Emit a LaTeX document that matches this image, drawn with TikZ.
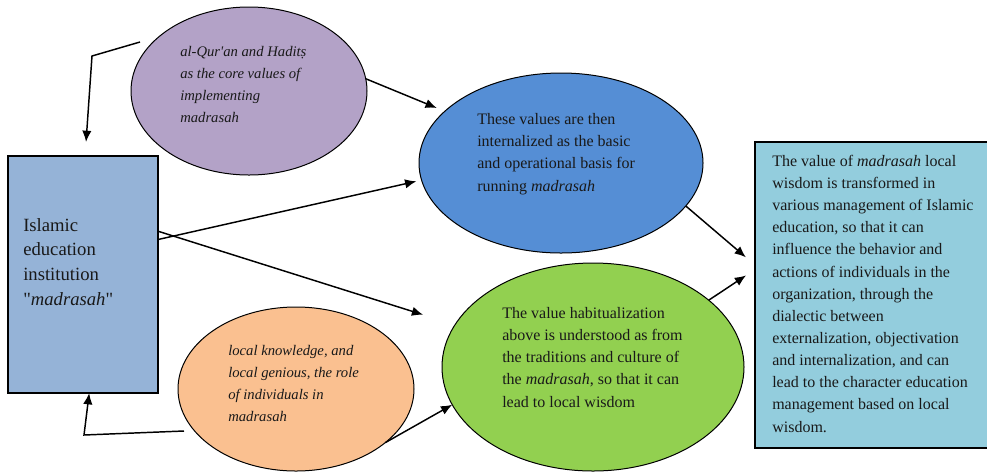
\documentclass[tikz,border=0pt]{standalone}
\usepackage{fontspec}
\setmainfont{Liberation Serif}
\usetikzlibrary{shapes.geometric,arrows.meta}

\definecolor{instfill}{HTML}{95B3D7}
\definecolor{quranfill}{HTML}{B3A2C7}
\definecolor{valuefill}{HTML}{558ED5}
\definecolor{habitfill}{HTML}{92D050}
\definecolor{localfill}{HTML}{FAC090}
\definecolor{wisdomfill}{HTML}{93CDDD}

\tikzset{
  blob/.style={ellipse, draw=black, line width=0.75pt, inner sep=0pt, outer sep=0pt},
  panel/.style={rectangle, draw=black, line width=0.9pt, inner sep=0pt, outer sep=0pt},
  % texts are placed at the baseline of their last line
  txt/.style={anchor=base west, align=left, inner sep=0pt, text=black!90,
    font=\fontsize{12pt}{16.6pt}\selectfont},
  itxt/.style={txt, font=\fontsize{11pt}{16.5pt}\selectfont\itshape},
  flow/.style={-{Latex[length=8.5pt,width=7pt]}, line width=1.1pt},
}

\begin{document}
\begin{tikzpicture}[x=0.75pt,y=-0.75pt]
\useasboundingbox (0,0) rectangle (987,472);
% shapes
\node[panel, fill=instfill, minimum width=112.5pt, minimum height=177.75pt] (inst) at (83,274.5) {};
\node[blob, fill=quranfill, minimum width=177pt, minimum height=126pt] (quran) at (249,91) {};
\node[blob, fill=valuefill, minimum width=213pt, minimum height=135pt] (value) at (561,163) {};
\node[blob, fill=habitfill, minimum width=226.5pt, minimum height=156pt] (habit) at (593,367) {};
\node[blob, fill=localfill, minimum width=177pt, minimum height=123pt] (local) at (296,389) {};
\node[panel, fill=wisdomfill, minimum width=180pt, minimum height=229.5pt] (wisdom) at (875,295) {};

% texts
\node[txt, font=\fontsize{14pt}{18.5pt}\selectfont] (insttext) at (23,305)
  {Islamic\\education\\institution\\\textquotedbl\textit{madrasah}\textquotedbl};
\node[itxt] (qurantext) at (180,122)
  {al-Qur\textquotesingle an and Haditṣ\\as the core values of\\implementing\\madrasah};
\node[txt] (valuetext) at (477,191)
  {These values are then\\internalized as the basic\\and operational basis for\\running \textit{madrasah}};
\node[txt] (habittext) at (502,407)
  {The value habitualization\\above is understood as from\\the traditions and culture of\\the \textit{madrasah}, so that it can\\lead to local wisdom};
\node[itxt] (localtext) at (228,421)
  {local knowledge, and\\local genious, the role\\of individuals in\\madrasah};
\node[txt] (wisdomtext) at (772,432)
  {The value of \textit{madrasah} local\\wisdom is transformed in\\various management of Islamic\\education, so that it can\\influence the behavior and\\actions of individuals in the\\organization, through the\\dialectic between\\externalization, objectivation\\and internalization, and can\\lead to the character education\\management based on local\\wisdom.};

% loose ends and bends
\coordinate (qfree) at (140,42);
\coordinate (qbend) at (92,56);
\coordinate (lfree) at (184,431);
\coordinate (lbend) at (84,435);

% edges
\draw[flow, shorten >=10.5pt] (qfree) -- (qbend) -- (inst.89);
\draw[flow] (lfree) -- (lbend) -- (inst.-87);
\draw[flow, shorten >=6.5pt] (quran.6) -- (value.156);
\draw[flow, shorten >=4pt] (inst.25) -- (value.187);
\draw[flow, shorten >=25pt] (inst.30) -- (habit.163);
\draw[flow] (local.-31) -- (habit.195);
\draw[flow, shorten >=9pt] (value.-19) -- (wisdom.166);
\draw[flow, shorten >=8pt] (habit.30) -- (wisdom.168);

\end{tikzpicture}
\end{document}
